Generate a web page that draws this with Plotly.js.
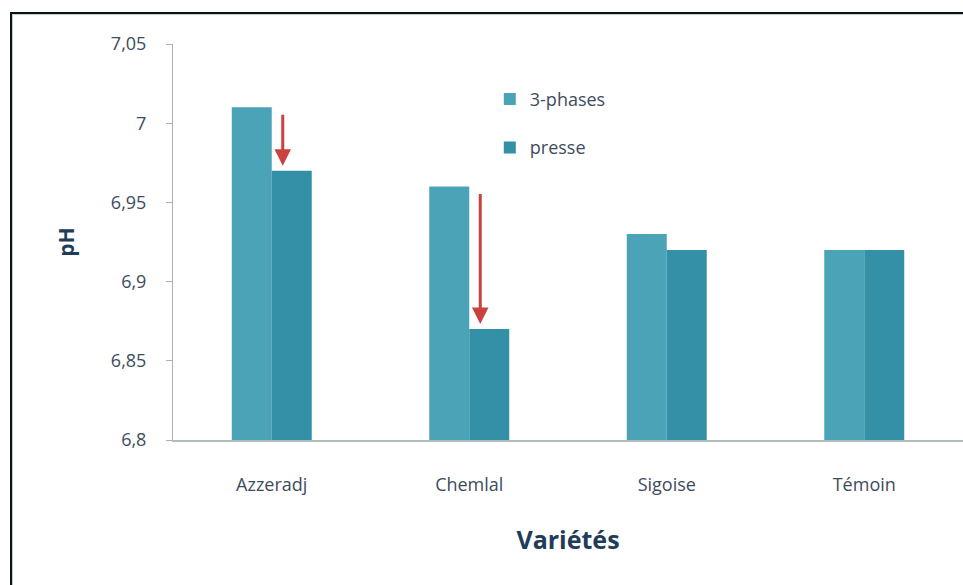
<!DOCTYPE html>
<html>
<head>
<meta charset="utf-8">
<script src="https://cdn.plot.ly/plotly-3.0.1.min.js"></script>
<style>
  html, body { margin: 0; padding: 0; background: #ffffff; }
  #wrap { position: relative; width: 963px; height: 585px; overflow: hidden; }
  #chart { width: 963px; height: 585px; }
  #frame { position: absolute; left: 10px; top: 12px; width: 960px; height: 580px;
           border-left: 2px solid #111; border-top: 2px solid #111;
           box-shadow: inset 1px 1px 0 #b9d3d8; pointer-events: none; }
</style>
</head>
<body>
<div id="wrap">
  <div id="chart"></div>
  <div id="frame"></div>
</div>
<script>
const categories = ["Azzeradj", "Chemlal", "Sigoise", "Témoin"];
const seriesNames = ["3-phases", "presse"];
const phases3 = [7.01, 6.96, 6.93, 6.92];
const presse = [6.97, 6.87, 6.92, 6.92];
const yTickVals = [6.8, 6.85, 6.9, 6.95, 7, 7.05];
const yTickText = ["6,8", "6,85", "6,9", "6,95", "7", "7,05"];
const arrowCategories = ["Azzeradj", "Chemlal"];

const font = "'Open Sans', 'Noto Sans', sans-serif";
const textColor = "#3d4b5e";
const titleColor = "#1f3c5a";

const traces = [
  { type: "bar", name: seriesNames[0], x: categories, y: phases3,
    marker: { color: "#4aa3b7" }, legendgroup: "a" },
  { type: "bar", name: seriesNames[1], x: categories, y: presse,
    marker: { color: "#3390a6" }, legendgroup: "b" }
];

const annotations = arrowCategories.map(c => {
  const i = categories.indexOf(c);
  return {
    x: c, xref: "x", y: presse[i], yref: "y",
    ax: 0, axref: "pixel", ay: phases3[i], ayref: "y",
    xshift: 11, text: "", showarrow: true,
    arrowhead: 2, arrowsize: 1.1, arrowwidth: 3, arrowcolor: "#c9423f",
    standoff: 5, startstandoff: 6
  };
});

const layout = {
  width: 963, height: 585,
  margin: { l: 173, r: 0, t: 44, b: 145 },
  paper_bgcolor: "#ffffff", plot_bgcolor: "#ffffff",
  font: { family: font, color: textColor, size: 15 },
  barmode: "group", bargap: 0.595, bargroupgap: 0,
  showlegend: true,
  legend: { x: 0.401, y: 0.907, xanchor: "left", yanchor: "top",
            font: { size: 18, color: textColor }, tracegroupgap: 22, itemwidth: 30,
            bgcolor: "rgba(0,0,0,0)" },
  xaxis: {
    type: "category", showline: true, linecolor: "#b3bcbc", linewidth: 2,
    ticks: "", ticklabelstandoff: 27, showgrid: false, zeroline: false,
    tickfont: { size: 18, color: textColor },
    title: { text: "<b>Variétés</b>", font: { size: 25, color: titleColor }, standoff: 37 }
  },
  yaxis: {
    range: [6.8, 7.05], tickvals: yTickVals, ticktext: yTickText,
    showline: true, linecolor: "#a7b2b4", linewidth: 1,
    ticks: "outside", ticklen: 6, tickcolor: "#a7b2b4", ticklabelstandoff: 16,
    showgrid: false, zeroline: false,
    tickfont: { size: 18, color: textColor },
    title: { text: "<b>pH</b>", font: { size: 21, color: titleColor }, standoff: 30 }
  },
  annotations: annotations
};

Plotly.newPlot("chart", traces, layout, { displayModeBar: false, staticPlot: true });
</script>
</body>
</html>
